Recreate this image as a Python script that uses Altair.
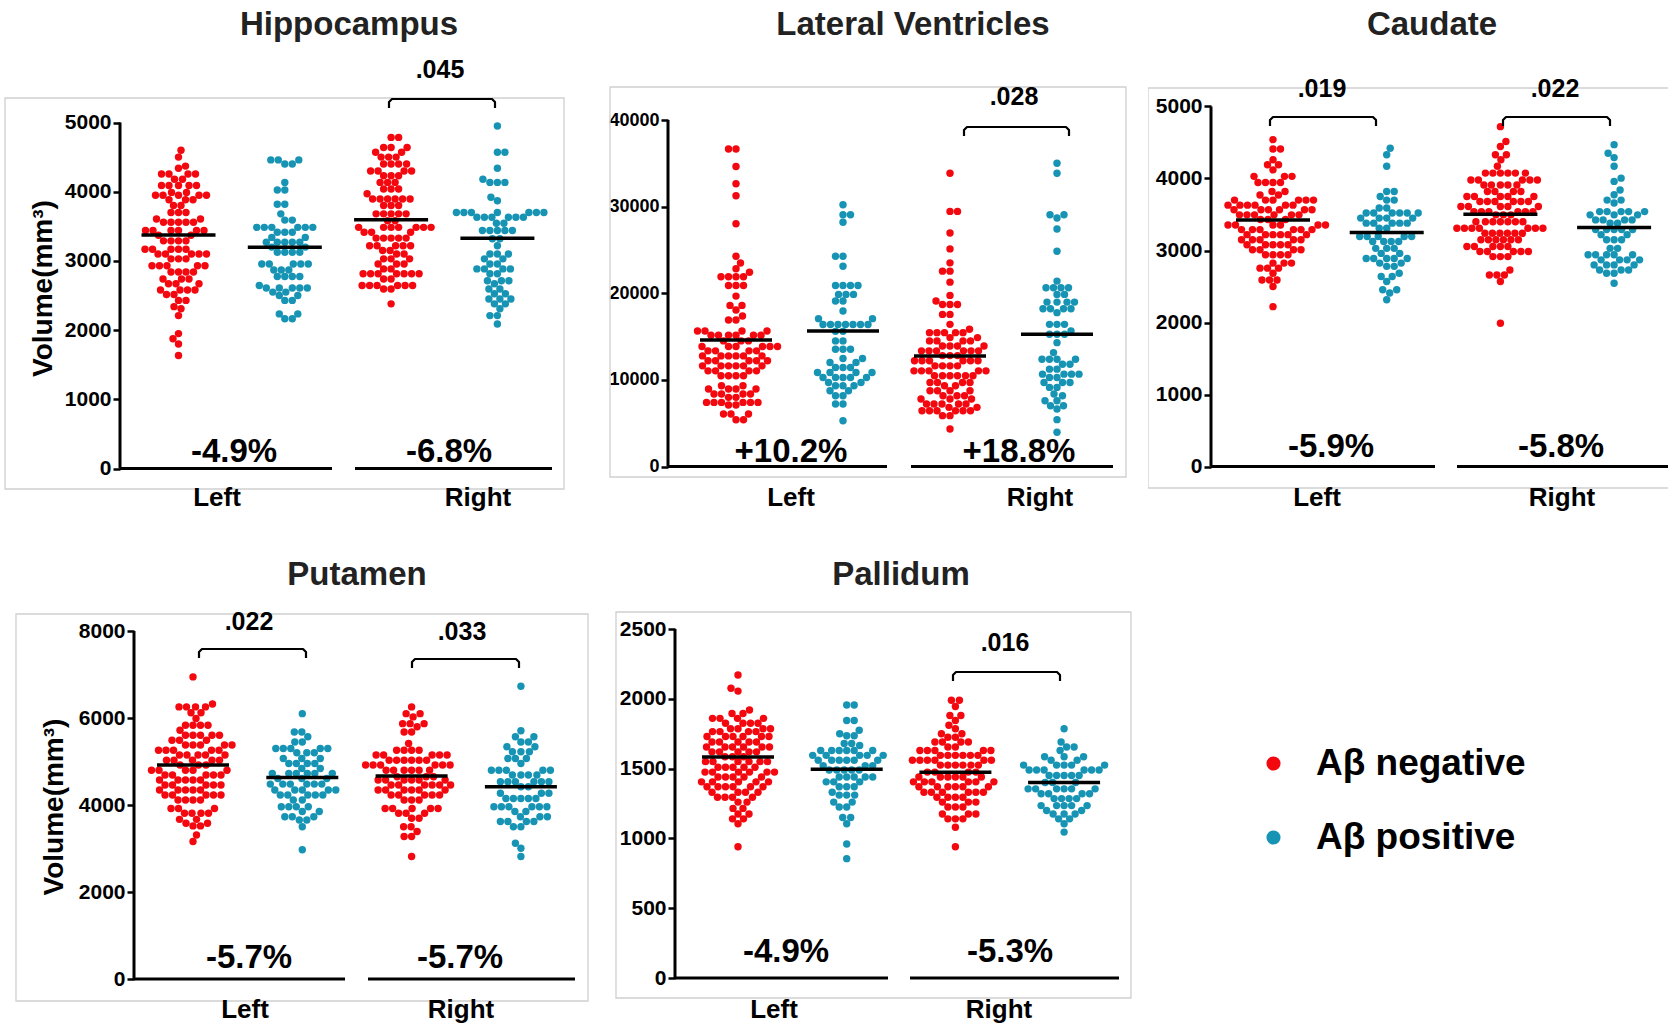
import altair as alt
import pandas as pd

RED = "#F3080F"
TEAL = "#1794B4"
FONT = "Liberation Sans"
TITLE_COLOR = "#222222"
STATUS = ["Aβ negative", "Aβ positive"]

# ---------------- data: rows of (volume, number of dots in that row) ----------------
H_L_NEG = [(4600,1),(4500,1),(4370,1),(4340,1),(4255,4),(4180,2),(4090,5),(3990,2),(3950,5),(3885,3),(3800,2),(3700,3),(3605,2),(3560,5),(3440,6),(3370,2),(3290,4),(3170,5),(3100,5),(3030,3),(2930,5),(2840,4),(2740,3),(2670,3),(2580,4),(2515,2),(2430,2),(2340,1),(2310,1),(2210,1),(1950,1),(1875,1),(1800,1),(1635,1)]
H_L_POS = [(4460,3),(4400,2),(4135,1),(4025,2),(3820,2),(3680,1),(3590,2),(3485,6),(3415,3),(3340,2),(3270,5),(3200,2),(3125,4),(2955,5),(2870,3),(2775,4),(2645,1),(2610,5),(2550,2),(2500,2),(2430,2),(2235,2),(2165,2)]
H_R_NEG = [(4785,2),(4640,3),(4570,2),(4500,3),(4400,4),(4300,4),(4230,3),(4135,3),(4040,3),(3970,1),(3895,6),(3800,3),(3680,5),(3580,2),(3485,7),(3415,3),(3330,5),(3220,5),(3150,2),(3100,2),(3030,3),(2955,3),(2885,2),(2815,7),(2740,2),(2645,6),(2595,2),(2380,1)]
H_R_POS = [(4950,1),(4570,2),(4340,1),(4180,1),(4135,3),(3920,1),(3870,1),(3700,7),(3630,6),(3545,2),(3440,5),(3320,2),(3220,1),(3100,3),(3030,2),(2955,2),(2885,4),(2815,2),(2715,3),(2670,1),(2595,2),(2525,2),(2450,3),(2380,2),(2310,1),(2210,2),(2090,1)]
H_MEANS = [3375, 3197, 3596, 3327]
H_PCT = ["-4.9%", "-6.8%"]
H_P = [".045"]

LV_L_NEG = [(36650,2),(34630,1),(32640,1),(31250,1),(28030,1),(24280,1),(23500,1),(22820,1),(22430,1),(21900,4),(20900,3),(19670,1),(18600,2),(18060,1),(17370,1),(16910,2),(15650,4),(15150,6),(14500,3),(13850,6),(13350,4),(12770,6),(12200,5),(11620,6),(11040,4),(10470,4),(9320,2),(8940,4),(8360,4),(7980,2),(7400,6),(7100,2),(6060,3),(5400,2)]
LV_L_POS = [(30220,1),(29070,2),(28190,1),(24280,2),(23120,1),(20900,4),(19870,3),(19100,2),(17950,1),(17070,2),(16400,7),(15600,2),(14500,2),(13540,3),(12460,2),(12000,2),(11430,3),(10850,4),(10280,5),(9700,2),(9320,3),(8740,2),(8170,2),(7210,2),(5290,1)]
LV_R_NEG = [(33860,1),(29450,2),(26960,1),(25120,1),(23510,1),(22550,2),(21280,1),(19750,1),(19100,1),(18710,3),(17560,2),(16410,1),(15840,1),(15450,5),(14880,2),(14500,4),(13920,4),(13350,6),(12800,3),(12200,6),(11620,4),(11040,5),(10470,6),(9700,4),(9320,2),(8740,4),(8170,3),(7790,3),(7210,5),(6830,2),(6440,6),(5870,2),(4330,1)]
LV_R_POS = [(35000,1),(33860,1),(29070,2),(28690,1),(27420,1),(24850,1),(21400,1),(20630,4),(19870,2),(18980,4),(18220,4),(17760,1),(16410,3),(15650,1),(15260,3),(14300,1),(13150,1),(12390,4),(11810,2),(11240,2),(10660,4),(10280,2),(9700,3),(9130,2),(8360,1),(8170,1),(7590,2),(7020,2),(6630,1),(5410,1),(3950,1)]
LV_MEANS = [14610, 15650, 12770, 15260]
LV_PCT = ["+10.2%", "+18.8%"]
LV_P = [".028"]

C_L_NEG = [(4540,1),(4410,2),(4260,1),(4190,2),(4120,1),(4030,3),(3945,4),(3820,2),(3770,2),(3700,6),(3630,6),(3565,6),(3495,6),(3430,3),(3355,6),(3290,6),(3220,6),(3150,5),(3080,5),(3010,4),(2940,4),(2825,3),(2755,3),(2685,1),(2590,3),(2500,1),(2220,1)]
C_L_POS = [(4420,1),(4330,1),(4170,1),(3820,2),(3750,1),(3700,2),(3590,2),(3520,6),(3450,4),(3380,5),(3310,2),(3195,5),(3125,4),(3030,3),(2960,2),(2890,5),(2825,2),(2780,2),(2685,1),(2640,2),(2570,1),(2455,2),(2410,1),(2315,1)]
C_R_NEG = [(4720,1),(4515,1),(4445,1),(4330,2),(4260,1),(4170,1),(4075,6),(3980,5),(3910,5),(3820,4),(3750,5),(3680,6),(3610,5),(3540,6),(3495,3),(3400,7),(3310,7),(3240,6),(3150,6),(3055,5),(2985,5),(2915,3),(2730,1),(2660,3),(2570,1),(1990,1)]
C_R_POS = [(4470,1),(4350,1),(4290,1),(4170,1),(4005,1),(3960,1),(3840,1),(3775,1),(3700,2),(3660,1),(3540,5),(3495,3),(3425,4),(3380,2),(3290,5),(3220,2),(3150,3),(3030,2),(2940,5),(2870,4),(2800,4),(2730,3),(2685,2),(2545,1)]
C_MEANS = [3425, 3250, 3505, 3320]
C_PCT = ["-5.9%", "-5.8%"]
C_P = [".019", ".022"]

P_L_NEG = [(6945,1),(6320,1),(6255,4),(6120,2),(5990,1),(5835,4),(5720,1),(5605,5),(5490,3),(5380,5),(5260,5),(5150,5),(5030,5),(4920,3),(4800,5),(4690,5),(4575,5),(4460,5),(4345,5),(4230,5),(4115,4),(3920,3),(3810,4),(3670,2),(3580,2),(3520,2),(3310,1),(3160,1)]
P_L_POS = [(6100,1),(5680,2),(5570,1),(5450,2),(5300,5),(5200,3),(5070,3),(4955,4),(4840,2),(4725,6),(4610,3),(4480,6),(4345,5),(4230,5),(4115,2),(3960,4),(3850,2),(3730,3),(3655,2),(3500,1),(2970,1)]
P_R_NEG = [(6255,1),(6100,2),(6025,1),(5870,3),(5800,1),(5680,2),(5415,1),(5260,4),(5150,5),(5030,6),(4920,6),(4800,6),(4650,3),(4575,6),(4460,6),(4345,6),(4230,5),(4115,3),(3920,5),(3810,3),(3695,2),(3500,2),(3390,1),(3275,2),(2815,1)]
P_R_POS = [(6730,1),(5705,1),(5570,2),(5450,2),(5340,2),(5225,3),(5070,3),(4955,1),(4800,5),(4690,4),(4535,6),(4420,2),(4270,3),(4150,5),(3960,6),(3850,2),(3730,3),(3620,4),(3500,2),(3120,1),(3005,1),(2815,1)]
P_MEANS = [4918, 4635, 4665, 4420]
P_PCT = ["-5.7%", "-5.7%"]
P_P = [".022", ".033"]

PAL_L_NEG = [(2170,1),(2075,1),(2055,1),(1920,1),(1895,2),(1860,4),(1825,4),(1785,4),(1765,4),(1730,6),(1690,5),(1655,6),(1620,5),(1585,3),(1550,6),(1510,5),(1475,6),(1440,5),(1405,5),(1370,6),(1330,4),(1295,4),(1260,2),(1215,2),(1175,2),(1140,2),(1105,1),(940,1)]
PAL_L_POS = [(1955,2),(1845,2),(1775,1),(1750,1),(1735,2),(1680,2),(1665,1),(1630,6),(1595,5),(1560,6),(1520,3),(1490,5),(1440,5),(1405,3),(1370,3),(1330,1),(1310,3),(1260,2),(1225,2),(1150,2),(1105,1),(960,1),(855,1)]
PAL_R_NEG = [(1990,2),(1945,1),(1880,2),(1845,1),(1810,1),(1785,1),(1750,2),(1725,2),(1690,4),(1655,2),(1630,5),(1595,6),(1560,6),(1525,6),(1475,4),(1440,6),(1405,6),(1370,6),(1330,6),(1295,4),(1260,3),(1225,3),(1175,3),(1140,3),(1080,1),(940,1)]
PAL_R_POS = [(1785,1),(1690,1),(1655,2),(1630,1),(1585,3),(1560,2),(1525,5),(1490,6),(1450,5),(1400,3),(1355,6),(1320,4),(1285,4),(1235,5),(1200,2),(1175,3),(1140,2),(1105,1),(1045,1)]
PAL_MEANS = [1583, 1495, 1473, 1400]
PAL_PCT = ["-4.9%", "-5.3%"]
PAL_P = [".016"]

SIDES = ["Left", "Right"]
Y_TITLE = "Volume(mm³)"

# ---------------- layout (page pixels) ----------------
PANELS = [
    dict(name="Hippocampus", groups=[H_L_NEG, H_L_POS, H_R_NEG, H_R_POS], means=H_MEANS, pct=H_PCT, pv=H_P,
         plot=(5, 87, 588, 402), ax=120, yT=122.5, y0=468.6, T=5000, ticks=[0, 1000, 2000, 3000, 4000, 5000],
         g1=178.5, s=106.3, hw=37, frame=(5, 98, 564, 489), lines=[(120, 332), (355, 552)],
         brackets=[(389, 495, 99)], pvpos=[(440, 78)], pctpos=[(234, 462), (449, 462)],
         sidepos=[217, 478], sidebase=506, titlepos=(349, 35), ytitle=True, tpad=7, lsize=21, clip=False),
    dict(name="Lateral Ventricles", groups=[LV_L_NEG, LV_L_POS, LV_R_NEG, LV_R_POS], means=LV_MEANS, pct=LV_PCT, pv=LV_P,
         plot=(610, 87, 521, 402), ax=668, yT=120, y0=466.5, T=40000, ticks=[0, 10000, 20000, 30000, 40000],
         g1=736, s=107, hw=36, frame=(610, 87, 1126, 477), lines=[(668, 887), (911, 1113)],
         brackets=[(964, 1069, 127)], pvpos=[(1014, 105)], pctpos=[(791, 462), (1019, 462)],
         sidepos=[791, 1040], sidebase=506, titlepos=(913, 35), ytitle=False, tpad=6, lsize=18, clip=False),
    dict(name="Caudate", groups=[C_L_NEG, C_L_POS, C_R_NEG, C_R_POS], means=C_MEANS, pct=C_PCT, pv=C_P,
         plot=(1148, 87, 520, 402), ax=1211, yT=106.5, y0=466.5, T=5000, ticks=[0, 1000, 2000, 3000, 4000, 5000],
         g1=1273, s=113.7, hw=37, frame=(1148, 88, 1720, 488), lines=[(1211, 1435), (1457, 1720)],
         brackets=[(1270, 1376, 117), (1503, 1610, 117)], pvpos=[(1322, 97), (1555, 97)],
         pctpos=[(1331, 457), (1561, 457)], sidepos=[1317, 1562], sidebase=506, titlepos=(1432, 35),
         ytitle=False, tpad=6, lsize=21, clip=True),
    dict(name="Putamen", groups=[P_L_NEG, P_L_POS, P_R_NEG, P_R_POS], means=P_MEANS, pct=P_PCT, pv=P_P,
         plot=(5, 612, 588, 389), ax=134, yT=631, y0=979, T=8000, ticks=[0, 2000, 4000, 6000, 8000],
         g1=193, s=109.3, hw=36, frame=(16, 614, 588, 1001), lines=[(134, 345), (368, 575)],
         brackets=[(199, 306, 649), (412, 519, 659)], pvpos=[(249, 630), (462, 640)],
         pctpos=[(249, 968), (460, 968)], sidepos=[245, 461], sidebase=1018, titlepos=(357, 585),
         ytitle=True, tpad=10, lsize=21, clip=False),
    dict(name="Pallidum", groups=[PAL_L_NEG, PAL_L_POS, PAL_R_NEG, PAL_R_POS], means=PAL_MEANS, pct=PAL_PCT, pv=PAL_P,
         plot=(610, 612, 521, 389), ax=675, yT=629, y0=978, T=2500, ticks=[0, 500, 1000, 1500, 2000, 2500],
         g1=738, s=108.7, hw=36, frame=(616, 612, 1131, 998), lines=[(675, 888), (910, 1119)],
         brackets=[(953, 1060, 672)], pvpos=[(1005, 651)], pctpos=[(786, 962), (1010, 962)],
         sidepos=[774, 999], sidebase=1018, titlepos=(901, 585), ytitle=False, tpad=6, lsize=21, clip=False),
]

LEGEND = alt.Legend(title=None, orient="none", legendX=1250, legendY=658, direction="vertical",
                    labelFont=FONT, labelFontSize=37, labelFontWeight="bold", labelColor="black",
                    symbolType="circle", symbolSize=200, symbolStrokeWidth=0, symbolOpacity=1,
                    rowPadding=36, labelOffset=24, padding=0, labelLimit=400)
COLOR = alt.Color("status:N", scale=alt.Scale(domain=STATUS, range=[RED, TEAL]), legend=LEGEND)


def swarm(rows, ppu, d=7.3):
    vals = sorted(v for v, n in rows for _ in range(n))
    placed, out = [], []
    for i, v in enumerate(vals):
        y = v * ppu
        near = [(px, py) for px, py in placed if abs(py - y) < d]
        signs = (1, -1) if i % 2 else (-1, 1)
        xo, step = None, 0.0
        while xo is None:
            for sg in signs:
                x = sg * step
                if all((x - px) ** 2 + (y - py) ** 2 >= d * d for px, py in near):
                    xo = x
                    break
            step += 0.5
        placed.append((xo, y))
        out.append((v, xo))
    return out


def build(cfg, anchor=False):
    L, PT, W, H = cfg["plot"]
    ax, yT, y0, T = cfg["ax"], cfg["yT"], cfg["y0"], cfg["T"]
    g1, s = cfg["g1"], cfg["s"]

    def X(p):
        return (p - g1) / s + 1

    def Y(p):
        return (y0 - p) / (y0 - yT) * T

    ppu = (y0 - yT) / T
    xs = alt.Scale(domain=[X(L), X(L + W)], nice=False, zero=False)
    ys = alt.Scale(domain=[Y(PT + H), Y(PT)], nice=False, zero=False)

    def ex(f="x"):
        return alt.X(f"{f}:Q", scale=xs, axis=None)

    def ey(f="y"):
        return alt.Y(f"{f}:Q", scale=ys, axis=None)

    layers = []
    fx1, fy1, fx2, fy2 = cfg["frame"]
    frame = pd.DataFrame({"x": [X(fx1)], "x2": [X(fx2)], "y": [Y(fy2)], "y2": [Y(fy1)]})
    layers.append(alt.Chart(frame).mark_rect(fillOpacity=0, stroke="#cfcfcf", strokeWidth=1.3, clip=cfg["clip"])
                  .encode(x=ex(), x2=alt.X2("x2"), y=ey(), y2=alt.Y2("y2")))
    if anchor:
        anc = pd.DataFrame({"x": [X(0.5)], "x2": [X(1.5)], "y": [Y(0.5)]})
        layers.append(alt.Chart(anc).mark_rule(color="white", strokeWidth=1)
                      .encode(x=ex(), x2=alt.X2("x2"), y=ey()))

    bl = pd.DataFrame({"x": [X(a) for a, b in cfg["lines"]], "x2": [X(b) for a, b in cfg["lines"]], "y": [0, 0]})
    layers.append(alt.Chart(bl).mark_rule(color="black", strokeWidth=3, clip=cfg["clip"])
                  .encode(x=ex(), x2=alt.X2("x2"), y=ey()))
    al = pd.DataFrame({"x": [X(ax)], "y": [0], "y2": [T]})
    layers.append(alt.Chart(al).mark_rule(color="black", strokeWidth=3)
                  .encode(x=ex(), y=ey(), y2=alt.Y2("y2")))

    recs = []
    for gi, rows in enumerate(cfg["groups"]):
        for v, xo in swarm(rows, ppu):
            recs.append({"x": gi + 1 + xo / s, "value": v, "status": STATUS[gi % 2]})
    pts = pd.DataFrame(recs)
    axis_kw = dict(orient="left", values=cfg["ticks"], format="d", offset=-(ax - L), domain=False, grid=False,
                   ticks=True, tickSize=7, tickWidth=2.5, tickColor="black", labelFont=FONT,
                   labelFontSize=cfg["lsize"], labelFontWeight="bold", labelColor="black", labelPadding=2,
                   labelOverlap=False)
    if cfg["ytitle"]:
        axis_kw.update(title=Y_TITLE, titleFont=FONT, titleFontSize=28, titleFontWeight="bold",
                       titleColor="black", titlePadding=cfg["tpad"])
    else:
        axis_kw.update(title=None)
    layers.append(alt.Chart(pts).mark_circle(size=55, opacity=1)
                  .encode(x=ex(), y=alt.Y("value:Q", scale=ys, axis=alt.Axis(**axis_kw)), color=COLOR))

    hw = cfg["hw"] / s
    ml = pd.DataFrame({"x": [g + 1 - hw for g in range(4)], "x2": [g + 1 + hw for g in range(4)],
                       "y": cfg["means"]})
    layers.append(alt.Chart(ml).mark_rule(color="black", strokeWidth=3.5)
                  .encode(x=ex(), x2=alt.X2("x2"), y=ey()))

    br = []
    for bi, (a, b, top) in enumerate(cfg["brackets"]):
        pts6 = [(a, top + 9), (a, top + 3), (a + 3, top), (b - 3, top), (b, top + 3), (b, top + 9)]
        for oi, (px, py) in enumerate(pts6):
            br.append({"id": bi, "o": oi, "x": X(px), "y": Y(py)})
    layers.append(alt.Chart(pd.DataFrame(br)).mark_line(color="black", strokeWidth=2.2, strokeJoin="round")
                  .encode(x=ex(), y=ey(), detail="id:N", order="o:Q"))

    def texts(items, size, color=None):
        df = pd.DataFrame([{"x": X(px), "y": Y(py), "t": t} for t, (px, py) in items])
        return (alt.Chart(df).mark_text(font=FONT, fontSize=size, fontWeight="bold", color=color or "black",
                                        align="center", baseline="alphabetic")
                .encode(x=ex(), y=ey(), text="t:N"))

    layers.append(texts(list(zip(cfg["pv"], cfg["pvpos"])), 25))
    layers.append(texts(list(zip(cfg["pct"], cfg["pctpos"])), 33))
    layers.append(texts([(SIDES[i], (cfg["sidepos"][i], cfg["sidebase"])) for i in range(2)], 26))
    layers.append(texts([(cfg["name"], cfg["titlepos"])], 33, TITLE_COLOR))

    return (alt.layer(*layers).properties(width=W, height=H)
            .resolve_axis(x="independent", y="independent"))


charts = [build(c, anchor=(i == 0)) for i, c in enumerate(PANELS)]
chart = (alt.concat(*charts, columns=3, spacing={"row": 123, "column": 17}, bounds="flush")
         .properties(padding=0, background="white")
         .configure_view(strokeWidth=0))

chart.save("out.html", embed_options={"renderer": "svg", "actions": False})
